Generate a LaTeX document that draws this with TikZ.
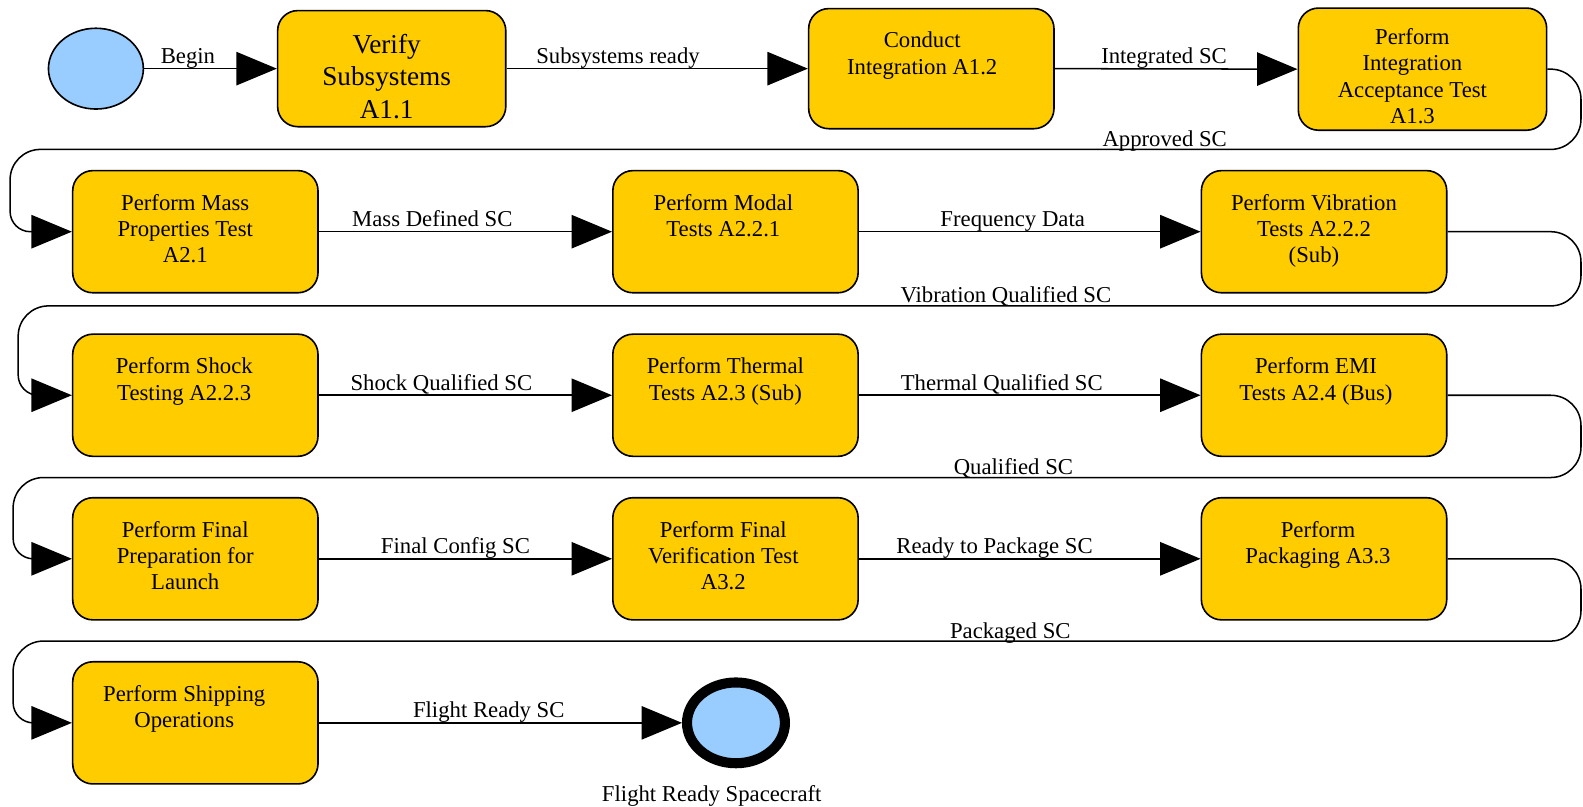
\documentclass[tikz,border=0pt]{standalone}
\usepackage{fontspec}
\setmainfont{Liberation Serif}
\usetikzlibrary{arrows.meta,shapes.geometric}
\definecolor{taskfill}{HTML}{FFCC00}
\definecolor{eventfill}{HTML}{99CCFF}
\begin{document}
\begin{tikzpicture}[x=1pt,y=-1pt,
  task/.style={draw=black, line width=1.6pt, fill=taskfill, rounded corners=20pt,
    minimum width=243pt, minimum height=121pt, inner sep=0pt},
  tasktext/.style={anchor=north, align=center, inner sep=0pt,
    font=\fontsize{22.5}{26}\selectfont},
  event/.style={ellipse, draw=black, fill=eventfill, inner sep=0pt},
  flow/.style={line width=1.5pt, -{Triangle[length=40pt,width=33pt]}},
  loopflow/.style={flow, rounded corners=30pt},
  elabel/.style={anchor=base, inner sep=0pt, yshift=5pt,
    font=\fontsize{22.5}{26}\selectfont},
  looplabel/.style={elabel, yshift=-2pt},
]
\useasboundingbox (0,0) rectangle (1568,799);

% start and end events
\node[event, line width=1.6pt, minimum width=94pt, minimum height=80pt] (start) at (95,68) {};
\node[event, line width=10pt, minimum width=97pt, minimum height=80pt] (fin) at (729,716) {};
\node[elabel, yshift=0pt] (fintxt) at ([xshift=-24pt,yshift=-38pt]fin.south) {Flight Ready Spacecraft};

% row 1
\node[task, minimum width=226pt, minimum height=115pt] (v11) at (388,68) {};
\node[tasktext, font=\fontsize{27}{32}\selectfont] (v11t) at ([xshift=-5pt,yshift=-24pt]v11.north) {Verify\\Subsystems\\A1.1};
\node[task, minimum height=119pt] (c12) at (922.5,68) {};
\node[tasktext] (c12t) at ([xshift=-9pt,yshift=-24pt]c12.north) {Conduct\\Integration A1.2};
\node[task, minimum width=246pt] (t13) at (1409,68.5) {};
\node[tasktext] (t13t) at ([xshift=-10pt,yshift=-21pt]t13.north) {Perform\\Integration\\Acceptance Test\\A1.3};

% row 2
\node[task] (m21) at (193.5,229.5) {};
\node[tasktext] (m21t) at ([xshift=-10pt,yshift=-24pt]m21.north) {Perform Mass\\Properties Test\\A2.1};
\node[task] (mod) at (728.5,229.5) {};
\node[tasktext] (modt) at ([xshift=-12pt,yshift=-24pt]mod.north) {Perform Modal\\Tests A2.2.1};
\node[task] (vib) at (1311.5,229.5) {};
\node[tasktext] (vibt) at ([xshift=-10pt,yshift=-24pt]vib.north) {Perform Vibration\\Tests A2.2.2\\(Sub)};

% row 3
\node[task] (shk) at (193.5,391.5) {};
\node[tasktext] (shkt) at ([xshift=-11pt,yshift=-24pt]shk.north) {Perform Shock\\Testing A2.2.3};
\node[task] (thm) at (728.5,391.5) {};
\node[tasktext] (thmt) at ([xshift=-10pt,yshift=-24pt]thm.north) {Perform Thermal\\Tests A2.3 (Sub)};
\node[task] (emi) at (1311.5,391.5) {};
\node[tasktext] (emit) at ([xshift=-8pt,yshift=-24pt]emi.north) {Perform EMI\\Tests A2.4 (Bus)};

% row 4
\node[task] (prep) at (193.5,553.5) {};
\node[tasktext] (prept) at ([xshift=-10pt,yshift=-24pt]prep.north) {Perform Final\\Preparation for\\Launch};
\node[task] (fver) at (728.5,553.5) {};
\node[tasktext] (fvert) at ([xshift=-12pt,yshift=-24pt]fver.north) {Perform Final\\Verification Test\\A3.2};
\node[task] (pack) at (1311.5,553.5) {};
\node[tasktext] (packt) at ([xshift=-6pt,yshift=-24pt]pack.north) {Perform\\Packaging A3.3};

% row 5
\node[task] (ship) at (193.5,716) {};
\node[tasktext] (shipt) at ([xshift=-11pt,yshift=-24pt]ship.north) {Perform Shipping\\Operations};

% straight flows
\draw[flow] (start.east) -- node[elabel, pos=0.33] (lbegin) {Begin} (v11.west);
\draw[flow] (v11.east) -- node[elabel, pos=0.37] (lsub) {Subsystems ready} (c12.west);
\draw[flow] (c12.east) -- node[elabel, pos=0.45] (lint) {Integrated SC} (t13.west);
\draw[flow] (m21.east) -- node[elabel, pos=0.387] (lmass) {Mass Defined SC} (mod.west);
\draw[flow] (mod.east) -- node[elabel, pos=0.45] (lfreq) {Frequency Data} (vib.west);
\draw[flow] (shk.east) -- node[elabel, pos=0.418] (lshock) {Shock Qualified SC} (thm.west);
\draw[flow] (thm.east) -- node[elabel, pos=0.418] (ltherm) {Thermal Qualified SC} (emi.west);
\draw[flow] (prep.east) -- node[elabel, pos=0.466] (lcfg) {Final Config SC} (fver.west);
\draw[flow] (fver.east) -- node[elabel, pos=0.397] (lready) {Ready to Package SC} (pack.west);
\draw[flow] (ship.east) -- node[elabel, pos=0.468] (lflight) {Flight Ready SC} (fin.west);

% wrap-around flows from the end of one row to the start of the next
\draw[loopflow] (t13.east) -- (1566,68.5) -- (1566,148)
  -- node[looplabel, pos=0.265] (lappr) {Approved SC} (10,148)
  [rounded corners=20pt] |- (m21.west);
\draw[loopflow] (vib.east) -- (1566,229.5) -- (1566,303)
  -- node[looplabel, pos=0.368] (lvib) {Vibration Qualified SC} (18,303)
  [rounded corners=20pt] |- (shk.west);
\draw[loopflow] (emi.east) -- (1566,391.5) -- (1566,473)
  -- node[looplabel, pos=0.362] (lqual) {Qualified SC} (13,473)
  [rounded corners=20pt] |- (prep.west);
\draw[loopflow] (pack.east) -- (1566,553.5) -- (1566,635)
  -- node[looplabel, pos=0.364] (lpack) {Packaged SC} (13,635)
  [rounded corners=20pt] |- (ship.west);
\end{tikzpicture}
\end{document}
